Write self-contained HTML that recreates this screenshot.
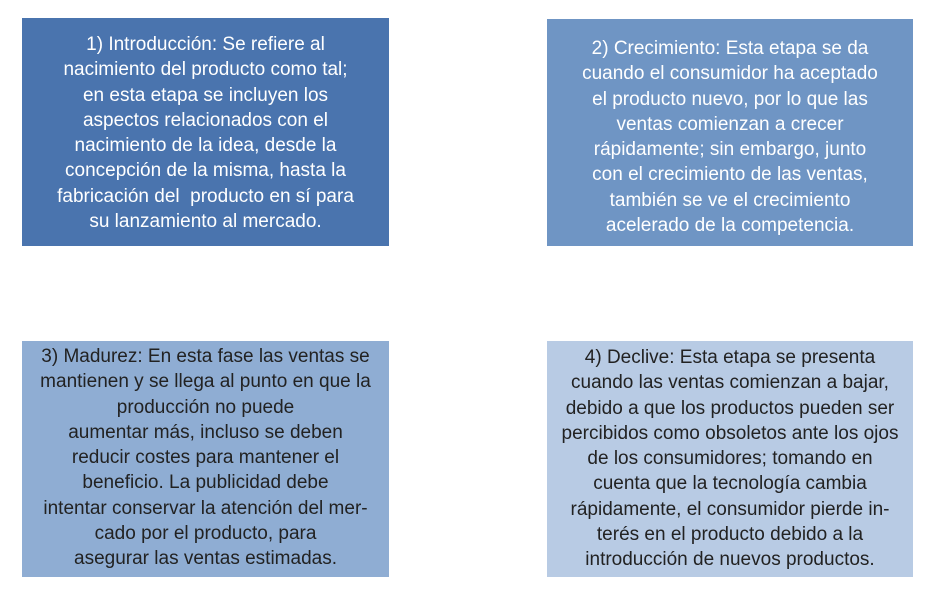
<!DOCTYPE html>
<html><head><meta charset="utf-8"><style>
html,body{margin:0;padding:0;background:#fff;width:930px;height:600px;overflow:hidden}
.b{position:absolute;box-sizing:border-box;text-align:center;font-family:"Liberation Sans",sans-serif;font-size:19px;line-height:25.3px;letter-spacing:0px}
.b div{white-space:nowrap}
</style></head><body>
<div class="b" style="left:22px;top:18px;width:367px;height:228px;background:#4a74ae;color:#fff;padding-top:14px">
<div>1) Introducción: Se refiere al</div>
<div>nacimiento del producto como tal;</div>
<div>en esta etapa se incluyen los</div>
<div>aspectos relacionados con el</div>
<div>nacimiento de la idea, desde la</div>
<div>concepción de la misma, hasta la</div>
<div>fabricación del&nbsp; producto en sí para</div>
<div>su lanzamiento al mercado.</div>
</div>
<div class="b" style="left:547px;top:19px;width:366px;height:227px;background:#6f95c4;color:#fff;padding-top:17px">
<div>2) Crecimiento: Esta etapa se da</div>
<div>cuando el consumidor ha aceptado</div>
<div>el producto nuevo, por lo que las</div>
<div>ventas comienzan a crecer</div>
<div>rápidamente; sin embargo, junto</div>
<div>con el crecimiento de las ventas,</div>
<div>también se ve el crecimiento</div>
<div>acelerado de la competencia.</div>
</div>
<div class="b" style="left:22px;top:341px;width:367px;height:236px;background:#8fadd3;color:#222;padding-top:3px">
<div>3) Madurez: En esta fase las ventas se</div>
<div>mantienen y se llega al punto en que la</div>
<div>producción no puede</div>
<div>aumentar más, incluso se deben</div>
<div>reducir costes para mantener el</div>
<div>beneficio. La publicidad debe</div>
<div>intentar conservar la atención del mer-</div>
<div>cado por el producto, para</div>
<div>asegurar las ventas estimadas.</div>
</div>
<div class="b" style="left:547px;top:341px;width:366px;height:236px;background:#b8cbe4;color:#222;padding-top:4px">
<div>4) Declive: Esta etapa se presenta</div>
<div>cuando las ventas comienzan a bajar,</div>
<div>debido a que los productos pueden ser</div>
<div>percibidos como obsoletos ante los ojos</div>
<div>de los consumidores; tomando en</div>
<div>cuenta que la tecnología cambia</div>
<div>rápidamente, el consumidor pierde in-</div>
<div>terés en el producto debido a la</div>
<div>introducción de nuevos productos.</div>
</div>
</body></html>
